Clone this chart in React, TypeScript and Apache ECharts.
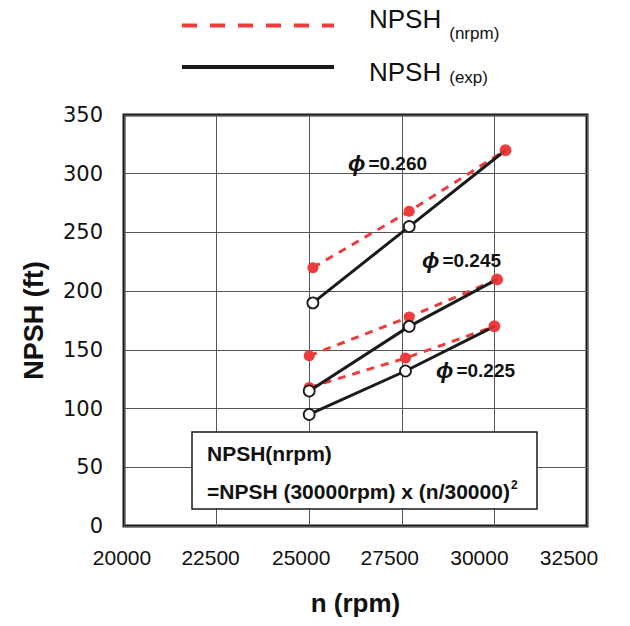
import React, { useEffect, useRef } from "react";
import * as echarts from "echarts";

// ---- data ----
const phiValues = ["0.260", "0.245", "0.225"];
// rotational speed (rpm) of the three test points for each flow coefficient
const rpm260 = [25100, 27700, 30300];
const rpm245 = [25000, 27700, 30070];
const rpm225 = [25000, 27600, 30000];
// NPSH scaled from the 30000 rpm value (ft)
const nrpm260 = [220, 268, 320];
const nrpm245 = [145, 178, 210];
const nrpm225 = [118, 143, 170];
// NPSH experimental (ft)
const exp260 = [190, 255, 320];
const exp245 = [115, 170, 210];
const exp225 = [95, 132, 170];

const xTickLabels = ["20000", "22500", "25000", "27500", "30000", "32500"];

const RED = "#ee3c3c";
const BLACK = "#1a1a1a";
const FONT = "'Liberation Sans', Arial, sans-serif";
const WIDE = "'DejaVu Sans', sans-serif";

const NAME_NRPM = "NPSH (nrpm)";
const NAME_EXP = "NPSH (exp)";

export default function App() {
  const ref = useRef<HTMLDivElement>(null);

  useEffect(() => {
    if (!ref.current) return;
    const chart = echarts.init(ref.current, undefined, { renderer: "svg" });

    const groups = [
      { rpm: rpm260, nrpm: nrpm260, exp: exp260 },
      { rpm: rpm245, nrpm: nrpm245, exp: exp245 },
      { rpm: rpm225, nrpm: nrpm225, exp: exp225 },
    ];

    const series: any[] = [];
    groups.forEach((g) => {
      series.push({
        type: "line",
        name: NAME_NRPM,
        data: g.rpm.map((n, j) => [n, g.nrpm[j]]),
        symbol: "circle",
        symbolSize: 11,
        itemStyle: { color: RED },
        lineStyle: { color: RED, width: 3, type: [8, 7] },
        z: 2,
      });
      series.push({
        type: "line",
        name: NAME_EXP,
        data: g.rpm.map((n, j) =>
          j === g.rpm.length - 1
            ? { value: [n, g.exp[j]], symbol: "none" }
            : [n, g.exp[j]]
        ),
        symbol: "circle",
        symbolSize: 11,
        itemStyle: { color: "#ffffff", borderColor: BLACK, borderWidth: 1.8 },
        lineStyle: { color: BLACK, width: 3 },
        z: 3,
      });
    });
    // end points at the highest speed (shared by both curves)
    series.push({
      type: "scatter",
      name: "end",
      data: groups.map((g) => [g.rpm[g.rpm.length - 1], g.nrpm[g.nrpm.length - 1]]),
      symbol: "circle",
      symbolSize: 12,
      itemStyle: { color: RED },
      z: 4,
    });

    const labelShift = [4, 12, 16, 24, 30, 36];
    const xRich: any = {};
    labelShift.forEach((p, i) => {
      xRich["p" + i] = { fontSize: 21, fontFamily: FONT, color: "#111", padding: [0, p, 0, 0] };
    });

    const phiPos = [
      [348, 163],
      [422, 260],
      [436, 370],
    ];

    const legendBase = {
      orient: "vertical",
      left: 180,
      padding: 0,
      itemWidth: 152,
      itemHeight: 14,
      itemStyle: { opacity: 0 },
    };

    chart.setOption({
      animation: false,
      backgroundColor: "#ffffff",
      grid: {
        left: 124,
        right: 43,
        top: 115,
        bottom: 100,
        show: true,
        borderColor: BLACK,
        borderWidth: 3,
        backgroundColor: "transparent",
      },
      legend: [
        {
          ...legendBase,
          top: 6,
          data: [{ name: NAME_NRPM, lineStyle: { color: RED, width: 4, type: [15, 13] } }],
          formatter: () => "{a|NPSH}{b|(nrpm)}",
          textStyle: {
            rich: {
              a: { fontSize: 26, fontFamily: FONT, color: "#111", padding: [0, 8, 13, 30] },
              b: { fontSize: 17, fontFamily: FONT, color: "#111", padding: [15, 0, 0, 0] },
            },
          },
        },
        {
          ...legendBase,
          top: 59,
          data: [{ name: NAME_EXP, lineStyle: { color: BLACK, width: 4, type: "solid" } }],
          formatter: () => "{a|NPSH}{b|(exp)}",
          textStyle: {
            rich: {
              a: { fontSize: 26, fontFamily: FONT, color: "#111", padding: [10, 8, 0, 30] },
              b: { fontSize: 17, fontFamily: FONT, color: "#111", padding: [20, 0, 0, 0] },
            },
          },
        },
      ],
      xAxis: {
        type: "value",
        min: 20000,
        max: 32500,
        interval: 2500,
        name: "n (rpm)",
        nameLocation: "middle",
        nameGap: 64,
        nameTextStyle: { fontSize: 26, fontWeight: "bold", fontFamily: FONT, color: "#111" },
        axisLine: { show: false },
        axisTick: { show: false },
        axisLabel: {
          margin: 21,
          formatter: (v: number) => {
            const i = xTickLabels.indexOf(String(v));
            return i >= 0 ? "{p" + i + "|" + xTickLabels[i] + "}" : String(v);
          },
          rich: xRich,
        },
        splitLine: { show: true, lineStyle: { color: "#555", width: 1 } },
      },
      yAxis: {
        type: "value",
        min: 0,
        max: 350,
        interval: 50,
        name: "NPSH (ft)",
        nameLocation: "middle",
        nameGap: 77,
        nameTextStyle: { fontSize: 27, fontWeight: "bold", fontFamily: FONT, color: "#111" },
        axisLine: { show: false },
        axisTick: { show: false },
        axisLabel: { margin: 21, fontSize: 21, fontFamily: WIDE, color: "#111" },
        splitLine: { show: true, lineStyle: { color: "#555", width: 1 } },
      },
      graphic: [
        ...phiValues.map((p, i) => ({
          type: "text",
          x: phiPos[i][0],
          y: phiPos[i][1],
          z: 10,
          style: {
            text: "{phi|ϕ}{v|=" + p + "}",
            verticalAlign: "middle",
            rich: {
              phi: {
                fontSize: 23,
                fontStyle: "italic",
                fontWeight: "bold",
                fontFamily: FONT,
                fill: "#111",
                padding: [0, 3, 0, 0],
              },
              v: { fontSize: 19, fontWeight: "bold", fontFamily: FONT, fill: "#111" },
            },
          },
        })),
        {
          type: "group",
          z: 20,
          children: [
            {
              type: "rect",
              shape: { x: 192, y: 432, width: 345, height: 77 },
              style: { fill: "#ffffff", stroke: BLACK, lineWidth: 1.5 },
              z: 20,
            },
            {
              type: "text",
              x: 207,
              y: 453,
              z: 21,
              style: {
                text: "NPSH(nrpm)",
                fontSize: 21,
                fontWeight: "bold",
                fontFamily: FONT,
                fill: "#111",
                verticalAlign: "middle",
              },
            },
            {
              type: "text",
              x: 207,
              y: 491,
              z: 21,
              style: {
                text: "{t|=NPSH (30000rpm) x (n/30000)}{s|2}",
                verticalAlign: "middle",
                rich: {
                  t: { fontSize: 21, fontWeight: "bold", fontFamily: FONT, fill: "#111" },
                  s: { fontSize: 12, fontWeight: "bold", fontFamily: FONT, fill: "#111", padding: [0, 0, 12, 1] },
                },
              },
            },
          ],
        },
      ],
      series,
    });

    return () => chart.dispose();
  }, []);

  return (
    <div
      ref={ref}
      style={{ position: "fixed", left: 0, top: 0, width: 630, height: 626, background: "#fff" }}
    />
  );
}
